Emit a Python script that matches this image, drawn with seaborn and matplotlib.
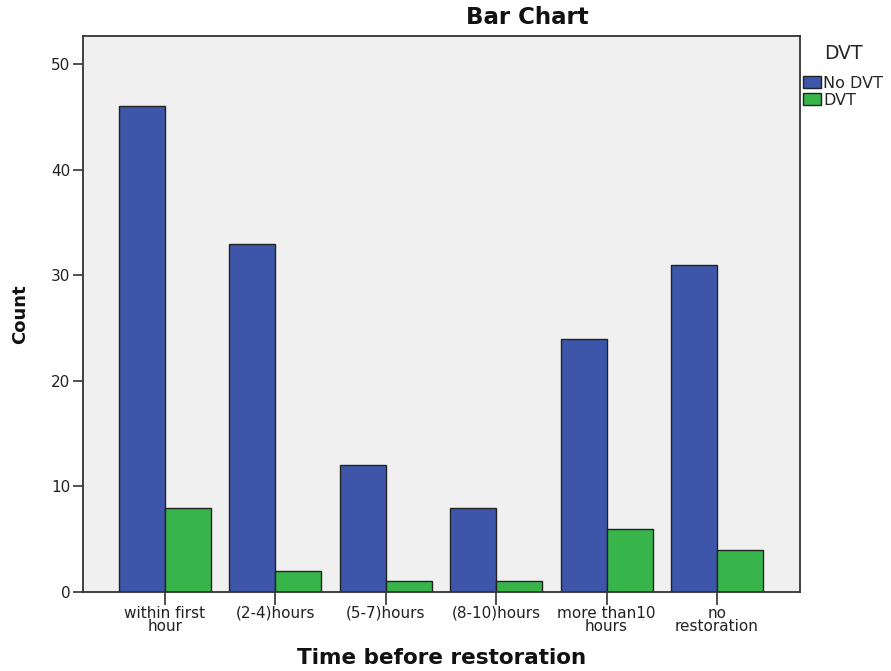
import matplotlib
matplotlib.use("Agg")
import matplotlib.pyplot as plt
import seaborn as sns
import pandas as pd
from matplotlib.patches import Patch

categories = ["within first\nhour", "(2-4)hours", "(5-7)hours", "(8-10)hours",
              "more than10\nhours", "no\nrestoration"]
no_dvt = [46, 33, 12, 8, 24, 31]
dvt = [8, 2, 1, 1, 6, 4]
hue_names = ["No DVT", "DVT"]
colors = ["#3D56AA", "#38B54A"]

df = pd.DataFrame({
    "time": categories * 2,
    "DVT": [hue_names[0]] * len(categories) + [hue_names[1]] * len(categories),
    "count": no_dvt + dvt,
})

sns.set_style("white")
plt.rcParams["font.family"] = ["DejaVu Sans"]

fig = plt.figure(figsize=(8.91, 6.71), dpi=100)
ax = fig.add_axes([83/891, 1-592/671, (800-83)/891, (592-36)/671])
ax.set_facecolor("#F0F0F0")

sns.barplot(data=df, x="time", y="count", hue="DVT", order=categories,
            hue_order=hue_names, palette=colors, width=0.834,
            edgecolor="#222222", linewidth=1.0, saturation=1, ax=ax,
            legend=False)

ax.set_ylim(0, 52.65)
ax.set_xlim(-0.743, 5.752)
ax.set_yticks([0, 10, 20, 30, 40, 50])
ax.tick_params(axis="both", direction="out", length=7, width=1.2,
               color="#333333", labelsize=11, labelcolor="#222222", pad=2,
               bottom=True, left=True)
ax.tick_params(axis="x", length=9, pad=1)
for lab in ax.get_xticklabels():
    lab.set_linespacing(0.85)
for s in ax.spines.values():
    s.set_color("#333333")
    s.set_linewidth(1.3)

ax.set_xlabel("Time before restoration", fontsize=15.5, fontweight="bold",
              labelpad=10, color="#111111")
ax.set_ylabel("Count", fontsize=13, fontweight="bold", labelpad=16,
              color="#111111")
fig.text(527/891, 1-18/671, "Bar Chart", fontsize=16.5, fontweight="bold",
         ha="center", va="center", color="#111111")

handles = [Patch(facecolor=c, edgecolor="#222222", linewidth=1.0) for c in colors]
leg = fig.legend(handles, hue_names, title="DVT", loc="upper left",
                 bbox_to_anchor=(800/891, 1-41/671), frameon=False,
                 fontsize=11.5, title_fontsize=13.5, handlelength=1.1,
                 handleheight=0.8, handletextpad=0.15, labelspacing=0.12,
                 borderaxespad=0.0, borderpad=0.2)
leg._legend_box.align = "center"
leg._legend_box.sep = 9

fig.savefig("out.png", dpi=100)
